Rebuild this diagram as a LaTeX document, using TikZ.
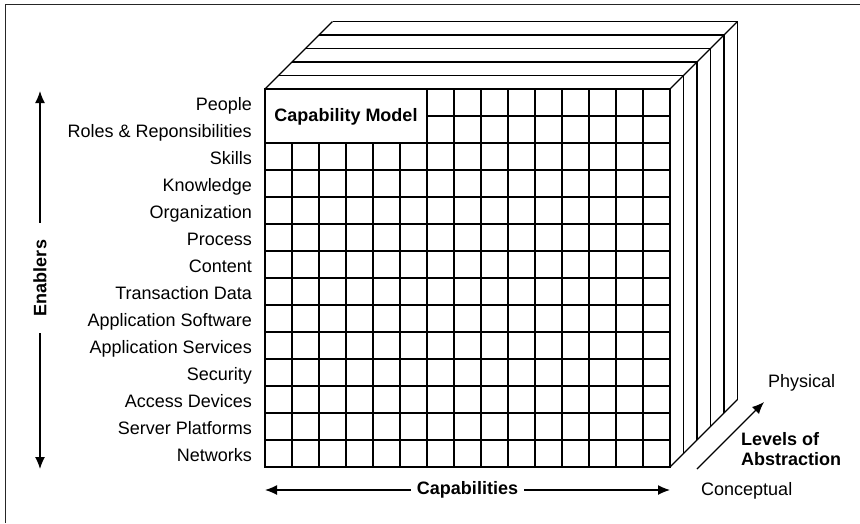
\documentclass[tikz,border=0pt]{standalone}
\usepackage{fontspec}
\setmainfont{Liberation Sans}
\usepackage{tikz}
\usetikzlibrary{arrows.meta,positioning}

\begin{document}
\begin{tikzpicture}[
    x=1pt,
    y=-1pt,
    >={Latex[length=12pt,width=10pt]},
    font=\fontsize{18}{20}\selectfont,
    cellline/.style={
		line width=1.3pt,
		line join=miter
	},
	rowlabel/.style={
		anchor=base east,
		inner sep=0pt
	},
	axislabel/.style={
		font=\fontsize{18}{19.5}\selectfont\bfseries,
		inner ysep=0pt
	},
	axisarrow/.style={
		line width=1.3pt,
		->
	},
	sidelabel/.style={
		anchor=base west,
		inner sep=0pt
	}
  ]

\useasboundingbox (0,0) rectangle (860,523);

% // frame
\draw [line width=1pt, black!85] (5,523) -- (5,4) -- (860,4);

% // front face
\draw [cellline] (265,89) rectangle (670,467);
\foreach \c in {1,...,5}
  \draw [cellline] ({265+27*\c},143) -- ({265+27*\c},467);
\foreach \c in {6,...,14}
  \draw [cellline] ({265+27*\c},89) -- ({265+27*\c},467);
\draw [cellline] (427,116) -- (670,116);
\foreach \r in {2,...,13}
  \draw [cellline] (265,{89+27*\r}) -- (670,{89+27*\r});

\node [axislabel, inner sep=0pt] (capmodel) at (346,116.5) {Capability Model};

% // top and side layers
\foreach \k in {1,...,5}
  \draw [cellline] ({265+13.5*\k},{89-13.5*\k}) -- ({670+13.5*\k},{89-13.5*\k})
        -- ({670+13.5*\k},{467-13.5*\k});
\draw [cellline] (265,89) -- (332.5,21.5);
\draw [cellline] (670,89) -- (737.5,21.5);
\draw [cellline] (670,467) -- (737.5,399.5);

% // enablers
\foreach \name [count=\i from 0] in {People,Roles \& Reponsibilities,Skills,Knowledge,
    Organization,Process,Content,Transaction Data,Application Software,
    Application Services,Security,Access Devices,Server Platforms,Networks}
  \node [rowlabel] (enabler\i) at (252,{110+27*\i}) {\name};

\coordinate (enabTop) at (40,91);
\coordinate (enabBot) at (40,469);
\node [axislabel, rotate=90, inner xsep=17pt] (enablers) at (40,278) {Enablers};
\draw [axisarrow] (enablers.east) -- (enabTop);
\draw [axisarrow] (enablers.west) -- (enabBot);

% // capabilities
\coordinate (capLeft) at (265,490);
\coordinate (capRight) at (670,490);
\node [axislabel, inner xsep=6pt] (capabilities) at (467.5,490) {Capabilities};
\draw [axisarrow] (capabilities.west) -- (capLeft);
\draw [axisarrow] (capabilities.east) -- (capRight);

% // levels of abstraction
\coordinate (levelFrom) at (697,469);
\coordinate (levelTo) at (764,402);
\draw [axisarrow] (levelFrom) -- (levelTo);
\node [sidelabel] (physical) at (768,387) {Physical};
\node [sidelabel, font=\fontsize{18}{19.5}\selectfont\bfseries, align=left] (levels) at (741,465)
 {Levels of\\Abstraction};
\node [sidelabel] (conceptual) at (701,495.5) {Conceptual};

\end{tikzpicture}
\end{document}
